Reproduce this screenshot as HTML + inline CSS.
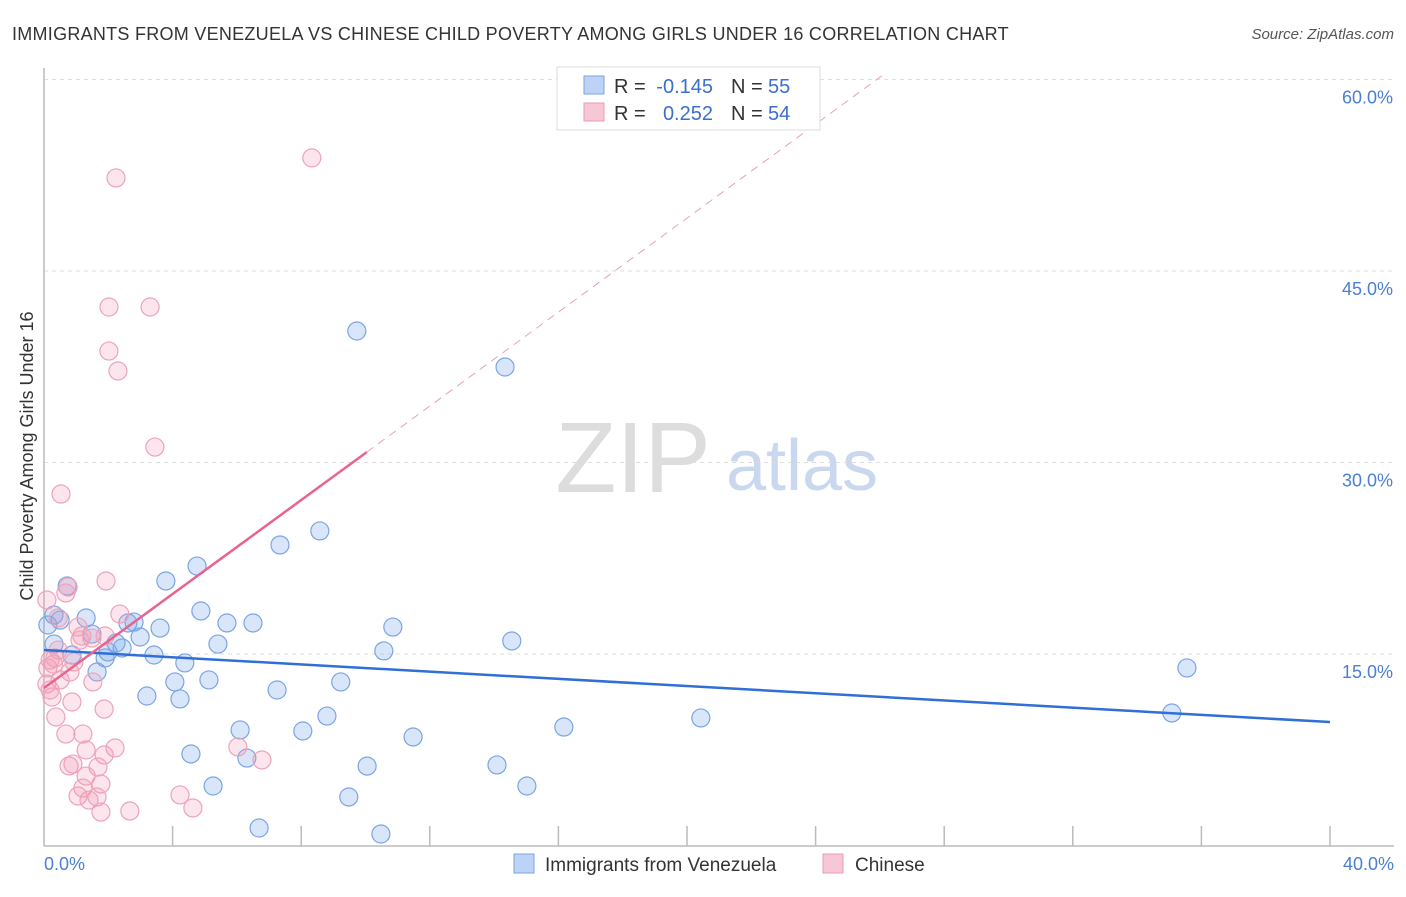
<!DOCTYPE html>
<html><head><meta charset="utf-8"><style>
body{margin:0;background:#fff;font-family:"Liberation Sans",sans-serif}
svg text{font-family:"Liberation Sans",sans-serif}
</style></head><body>
<svg id="chart" width="1406" height="892" xmlns="http://www.w3.org/2000/svg">
<text x="12" y="40" font-size="18" fill="#333" letter-spacing="0.27">IMMIGRANTS FROM VENEZUELA VS CHINESE CHILD POVERTY AMONG GIRLS UNDER 16 CORRELATION CHART</text>
<text x="1394" y="39" font-size="15" fill="#555" font-style="italic" text-anchor="end">Source: ZipAtlas.com</text>
<g>
<text x="633" y="492" font-size="100" fill="#ddd" font-family="Liberation Serif" text-anchor="middle">ZIP</text>
<text x="802" y="490" font-size="72" fill="#c9d8ef" text-anchor="middle">atlas</text>
</g>
<g id="grid"></g>
<g id="axes"></g>
<g id="marks"></g>
<text transform="translate(33,456) rotate(-90)" font-size="18" fill="#333" text-anchor="middle">Child Poverty Among Girls Under 16</text>
<g>
<rect x="557" y="67" width="263" height="63" fill="#fff" stroke="#ddd"/>
<rect x="584" y="76" width="20" height="18" fill="#bcd3f5" stroke="#7ea6e0"/>
<rect x="584" y="103" width="20" height="18" fill="#f8c7d5" stroke="#eb9ab2"/>
<text x="614" y="93" font-size="20" fill="#333">R =</text>
<text x="713" y="93" font-size="20" fill="#3a6fd0" text-anchor="end">-0.145</text>
<text x="731" y="93" font-size="20" fill="#333">N =</text>
<text x="768" y="93" font-size="20" fill="#3a6fd0">55</text>
<text x="614" y="120" font-size="20" fill="#333">R =</text>
<text x="713" y="120" font-size="20" fill="#3a6fd0" text-anchor="end">0.252</text>
<text x="731" y="120" font-size="20" fill="#333">N =</text>
<text x="768" y="120" font-size="20" fill="#3a6fd0">54</text>
</g>
<g>
<rect x="514" y="854" width="20" height="19" fill="#bcd3f5" stroke="#7ea6e0"/>
<text x="545" y="871" font-size="19" fill="#333">Immigrants from Venezuela</text>
<rect x="823" y="854" width="20" height="19" fill="#f8c7d5" stroke="#eb9ab2"/>
<text x="855" y="871" font-size="19" fill="#333">Chinese</text>
</g>
</svg>
<script>
const yTicks=[15,30,45,60];
const yTickLabels=["15.0%","30.0%","45.0%","60.0%"];
const xTicks=[4,8,12,16,20,24,28,32,36,40];
const xEndLabels=["0.0%","40.0%"];
const venX=[0.72,0.31,0.50,1.31,1.49,0.31,0.87,1.99,1.65,1.90,2.24,2.43,2.61,2.80,2.99,3.20,3.42,3.61,3.79,4.07,4.23,4.38,4.57,4.76,4.88,5.13,5.26,5.41,5.69,6.10,6.31,6.50,6.69,7.25,7.34,8.05,8.58,8.80,9.23,9.48,9.73,10.05,10.48,10.57,10.85,11.48,14.09,14.34,14.55,15.02,16.17,20.43,35.08,35.55,0.12];
const venY=[20.33,18.05,17.66,17.82,16.56,15.78,14.92,15.16,13.59,14.69,15.86,15.47,17.43,17.50,16.33,11.71,14.92,17.03,20.72,12.81,11.48,14.30,7.17,21.89,18.37,12.97,4.66,15.78,17.43,9.05,6.85,17.43,1.37,12.18,23.54,8.97,24.64,10.14,12.81,3.80,40.30,6.22,0.90,15.24,17.11,8.50,6.31,37.48,16.02,4.66,9.28,9.99,10.38,13.91,17.27];
const chiX=[2.24,8.33,2.02,3.30,2.02,2.30,3.45,0.53,0.75,1.93,0.09,0.68,2.36,0.44,1.06,1.18,1.49,1.90,0.19,0.34,0.44,0.12,0.81,1.52,0.09,0.25,0.87,0.37,1.87,0.68,1.21,1.31,2.21,1.87,6.03,0.78,0.90,1.68,1.31,1.21,1.77,1.06,1.40,1.65,4.23,1.77,2.67,4.63,6.78,0.93,1.12,0.19,0.50,0.30];
const chiY=[52.29,53.86,42.18,42.18,38.73,37.17,31.21,27.53,20.25,20.72,19.23,19.78,18.13,17.82,17.11,16.41,16.25,16.41,14.53,14.69,15.31,13.91,13.59,12.81,12.65,11.63,11.24,10.07,10.69,8.73,8.73,7.48,7.64,7.09,7.72,6.23,6.38,6.15,5.44,4.50,4.82,3.88,3.56,3.80,3.96,2.62,2.70,2.94,6.70,14.38,16.09,12.18,12.97,14.20];
const venTrend=[15.31,-0.141];
const chiTrend=[12.34,1.84];
const X0=44,X1=1330,Y0=845.5,PY=191.5/15;
const sx=v=>X0+(X1-X0)*v/40, sy=v=>Y0-v*PY;
const NS="http://www.w3.org/2000/svg";
function mk(tag,attrs,parent){const e=document.createElementNS(NS,tag);for(const k in attrs)e.setAttribute(k,attrs[k]);document.getElementById(parent).appendChild(e);return e;}
yTicks.forEach((t,i)=>{
 const g=mk('line',{x1:X0,x2:1394,y1:sy(t),y2:sy(t),stroke:'#ddd','stroke-dasharray':'4,4'},'grid');
 
 
 const l=mk('text',{x:1393,y:sy(t)+24,'font-size':18,fill:'#4a7fd4','text-anchor':'end'},'axes');
 l.textContent=yTickLabels[i];
 
 
});
const ax=mk('line',{x1:X0,x2:X0,y1:68,y2:846,stroke:'#bbb','stroke-width':1.5},'axes');


const bx=mk('line',{x1:X0,x2:1394,y1:846,y2:846,stroke:'#bbb','stroke-width':1.5},'axes');


xTicks.forEach(t=>{
 const k=mk('line',{x1:sx(t),x2:sx(t),y1:826,y2:846,stroke:'#bbb','stroke-width':1.5},'axes');
 
 
});
[[0,'start',44],[40,'end',1394]].forEach((d,i)=>{
 const l=mk('text',{x:d[2],y:870,'font-size':18,fill:'#4a7fd4','text-anchor':d[1]},'axes');
 l.textContent=xEndLabels[i];
 
 
});
venX.forEach((x,i)=>{
 const c=mk('circle',{cx:sx(x),cy:sy(venY[i]),r:9,fill:'rgba(120,165,235,0.28)',stroke:'#7aa5e3','stroke-width':1.2},'marks');
 
 
});
chiX.forEach((x,i)=>{
 const c=mk('circle',{cx:sx(x),cy:sy(chiY[i]),r:9,fill:'rgba(245,150,180,0.25)',stroke:'#eda3b9','stroke-width':1.2},'marks');
 
 
});
const vt=mk('line',{x1:sx(0),y1:sy(venTrend[0]),x2:sx(40),y2:sy(venTrend[0]+40*venTrend[1]),stroke:'#2f6fd6','stroke-width':2.5},'marks');


const cEnd=10.04, cDash=26.2;
const ct=mk('line',{x1:sx(0),y1:sy(chiTrend[0]),x2:sx(cEnd),y2:sy(chiTrend[0]+cEnd*chiTrend[1]),stroke:'#e8648e','stroke-width':2.5},'marks');


const cd=mk('line',{x1:sx(cEnd),y1:sy(chiTrend[0]+cEnd*chiTrend[1]),x2:sx(cDash),y2:sy(chiTrend[0]+cDash*chiTrend[1]),stroke:'#e8a0b8','stroke-width':1,'stroke-dasharray':'8,6'},'marks');


</script>
</body></html>
